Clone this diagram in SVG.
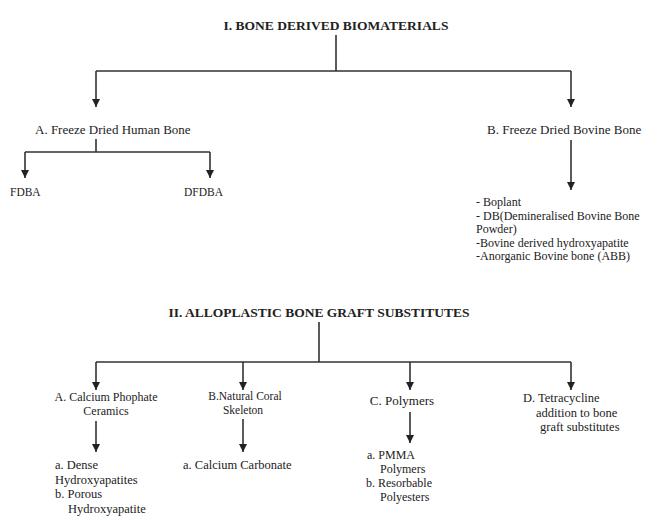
<svg xmlns="http://www.w3.org/2000/svg" width="646" height="520" viewBox="0 0 646 520">
<defs>
<marker id="ah" markerWidth="8" markerHeight="8" refX="8" refY="4" orient="auto" markerUnits="userSpaceOnUse" viewBox="0 0 8 8">
<path d="M0,0 L8,4 L0,8 Z" fill="#222"/>
</marker>
<style>
text{font-family:"Liberation Serif","Times New Roman",serif;fill:#222;font-size:13px}
.t{font-weight:bold;font-size:13.5px}
.s{font-size:12.5px}
.m{font-size:12px}
.xs{font-size:11.5px}
.c{text-anchor:middle}
.ln{stroke:#333;stroke-width:1.6;fill:none}
.ar{stroke:#333;stroke-width:1.6;fill:none;marker-end:url(#ah)}
</style>
</defs>
<rect width="646" height="520" fill="#fff"/>
<g id="connectors">
<path class="ln" d="M336,35 V71 M96,71 H571"/>
<path class="ar" d="M96,71 V107"/>
<path class="ar" d="M571,71 V107"/>
<path class="ln" d="M96,139 V152 M25,152 H210"/>
<path class="ar" d="M25,152 V178"/>
<path class="ar" d="M210,152 V178"/>
<path class="ar" d="M571,140 V190"/>
<path class="ln" d="M319,322 V362 M96,362 H571"/>
<path class="ar" d="M96,362 V390"/>
<path class="ar" d="M243,362 V390"/>
<path class="ar" d="M410,362 V390"/>
<path class="ar" d="M571,362 V390"/>
<path class="ar" d="M96,421 V452"/>
<path class="ar" d="M243,419 V452"/>
<path class="ar" d="M410,412 V443"/>
</g>
<g id="title1"><text class="t c" x="336" y="30">I. BONE DERIVED BIOMATERIALS</text></g>
<g id="nodeA1"><text x="35" y="134">A. Freeze Dried Human Bone</text></g>
<g id="nodeB1"><text x="487" y="134">B. Freeze Dried Bovine Bone</text></g>
<g id="fdba"><text class="xs" x="10" y="196">FDBA</text></g>
<g id="dfdba"><text class="xs" x="184" y="196">DFDBA</text></g>
<g id="bovineList">
<text class="m" x="476" y="206">- Boplant</text>
<text class="m" x="476" y="219.5">- DB(Demineralised Bovine Bone</text>
<text class="m" x="476" y="233">Powder)</text>
<text class="m" x="476" y="246.5">-Bovine derived hydroxyapatite</text>
<text class="m" x="476" y="260">-Anorganic Bovine bone (ABB)</text>
</g>
<g id="title2"><text class="t c" x="319" y="317">II. ALLOPLASTIC BONE GRAFT SUBSTITUTES</text></g>
<g id="nodeA2"><text class="m c" x="106" y="401">A. Calcium Phophate</text><text class="m c" x="106" y="415">Ceramics</text></g>
<g id="nodeB2"><text class="xs c" x="245" y="400">B.Natural Coral</text><text class="xs c" x="243" y="413.5">Skeleton</text></g>
<g id="nodeC2"><text class="c" x="402" y="405">C. Polymers</text></g>
<g id="nodeD2"><text class="s" x="523" y="402">D. Tetracycline</text><text class="s" x="536" y="416.5">addition to bone</text><text class="s" x="540" y="431">graft substitutes</text></g>
<g id="leafA"><text class="s" x="55" y="469">a. Dense</text><text class="s" x="55" y="483.5">Hydroxyapatites</text><text class="s" x="55" y="498">b. Porous</text><text class="s" x="68" y="512.5">Hydroxyapatite</text></g>
<g id="leafB"><text class="s" x="183" y="469">a. Calcium Carbonate</text></g>
<g id="leafC"><text class="m" x="367" y="459">a. PMMA</text><text class="m" x="380" y="473">Polymers</text><text class="m" x="366" y="487">b. Resorbable</text><text class="m" x="380" y="501">Polyesters</text></g>
</svg>
